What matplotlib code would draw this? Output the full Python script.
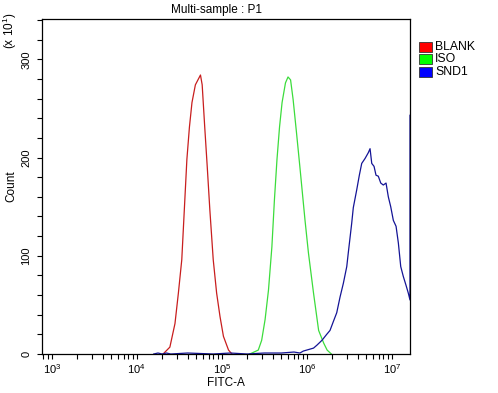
import numpy as np
import matplotlib
matplotlib.use("Agg")
import matplotlib.pyplot as plt
from matplotlib.patches import Rectangle
from matplotlib.ticker import FixedLocator, MultipleLocator, LogLocator, NullFormatter

plt.rcParams['font.family'] = ['Liberation Sans', 'DejaVu Sans']
plt.rcParams['mathtext.fontset'] = 'custom'
plt.rcParams['mathtext.rm'] = 'Liberation Sans'
plt.rcParams['mathtext.it'] = 'Liberation Sans'

# ---- data (log10 of FITC-A, counts) ----
blank_log = [4.31, 4.39, 4.45, 4.49, 4.53, 4.56, 4.59, 4.62, 4.65, 4.69, 4.72,
             4.75, 4.77, 4.80, 4.83, 4.86, 4.90, 4.94, 4.98, 5.02, 5.08, 5.12]
blank_cnt = [0, 7, 31, 62, 96, 147, 198, 231, 256, 274, 279,
             284, 274, 231, 190, 147, 96, 62, 38, 18, 4, 0]

iso_log = [5.33, 5.43, 5.47, 5.51, 5.55, 5.59, 5.62, 5.65, 5.68, 5.71, 5.75,
           5.78, 5.81, 5.84, 5.88, 5.92, 5.98, 6.02, 6.08, 6.14, 6.20, 6.24, 6.29]
iso_cnt = [0, 4, 14, 35, 65, 109, 157, 198, 231, 256, 276,
           282, 279, 259, 225, 190, 136, 103, 62, 24, 11, 4, 0]

snd1_log = [4.20, 4.25, 4.30, 4.35, 4.40, 4.60, 4.90, 5.10, 5.30, 5.50, 5.70, 5.85,
            5.92, 5.96, 6.00, 6.04, 6.08, 6.12, 6.18, 6.235, 6.274, 6.313, 6.353,
            6.392, 6.431, 6.471, 6.489, 6.529, 6.548, 6.588, 6.619, 6.647, 6.686,
            6.725, 6.745, 6.765, 6.792, 6.815, 6.842, 6.871, 6.901, 6.933, 6.960,
            6.988, 7.019, 7.051, 7.078, 7.106, 7.136, 7.168, 7.195, 7.215, 7.215]
snd1_cnt = [0, 1, 0, 1, 0, 1, 0, 1, 0, 1, 1, 2,
            1, 3, 4, 5, 6, 9, 14, 20, 24, 33, 42,
            58, 72, 89, 103, 133, 149, 167, 182, 194, 199,
            205, 209, 194, 191, 182, 181, 174, 172, 174, 160,
            150, 136, 130, 113, 89, 79, 70, 62, 55, 243]

series_names = ['BLANK', 'ISO', 'SND1']
line_colors = ['#c81e1e', '#3cdc3c', '#141496']
legend_colors = ['#ff0000', '#00ff00', '#0000ff']

x_decades = [3, 4, 5, 6, 7]
y_major = [0, 100, 200, 300]

W, H = 498, 393
fig = plt.figure(figsize=(W / 100, H / 100), dpi=100)
L, R, T, B = 41.7, 410, 19.3, 354
ax = fig.add_axes([L / W, 1 - B / H, (R - L) / W, (B - T) / H])

datas = [(blank_log, blank_cnt), (iso_log, iso_cnt), (snd1_log, snd1_cnt)]
for (lg, ct), c in zip(datas, line_colors):
    ax.plot(10 ** np.array(lg), ct, color=c, lw=0.9, clip_on=False)

ax.set_xscale('log')
ax.set_xlim(10 ** 2.882, 10 ** 7.215)
ax.set_ylim(0, 340.7)

ax.xaxis.set_major_locator(FixedLocator([10.0 ** d for d in x_decades]))
ax.set_xticklabels([r'$\mathregular{10^{%d}}$' % d for d in x_decades])
ax.xaxis.set_minor_locator(LogLocator(base=10, subs=np.arange(2, 10), numticks=20))
ax.xaxis.set_minor_formatter(NullFormatter())

ax.yaxis.set_major_locator(FixedLocator(y_major))
ax.yaxis.set_minor_locator(MultipleLocator(20))
ax.set_yticklabels([str(v) for v in y_major], rotation=90, va='center')

ax.tick_params(axis='both', which='both', direction='out', length=3.5, width=0.8,
               color='black', labelsize=8)
ax.tick_params(axis='y', pad=4)
ax.tick_params(axis='x', pad=2.5)
for s in ax.spines.values():
    s.set_linewidth(0.9)

ax.set_xlabel('FITC-A', fontsize=8.5, labelpad=0.5)
ax.set_ylabel('Count', fontsize=8.5, labelpad=3)
fig.text(10 / W, 1 - 31 / H, r'(x 10$\mathregular{^{1}}$)', rotation=90, fontsize=8.5,
         ha='center', va='center')
fig.text(216.5 / W, 1 - 9.5 / H, 'Multi-sample : P1', fontsize=8.5, ha='center', va='center')

# legend
for i, (name, c) in enumerate(zip(series_names, legend_colors)):
    y0 = 41.5 + i * 12.6
    fig.add_artist(Rectangle((419 / W, 1 - (y0 + 10) / H), 13 / W, 10 / H,
                             transform=fig.transFigure, facecolor=c,
                             edgecolor='#333333', lw=0.6))
    fig.text(435 / W, 1 - (y0 + 5) / H, name, fontsize=8.8, ha='left', va='center')

fig.savefig('out.png', dpi=100)
